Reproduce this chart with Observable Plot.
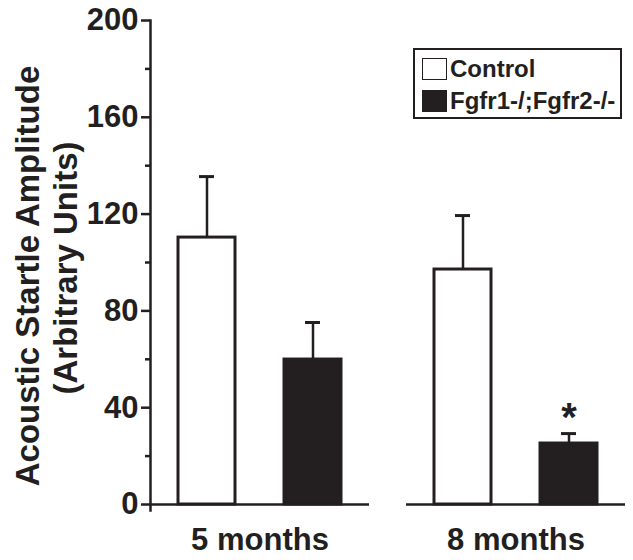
<!DOCTYPE html>
<html>
<head>
<meta charset="utf-8">
<script src="https://cdn.jsdelivr.net/npm/d3@7"></script>
<script src="https://cdn.jsdelivr.net/npm/@observablehq/plot@0.6"></script>
<style>
  body { margin: 0; background: #fff; }
  #wrap { position: relative; width: 633px; height: 560px; font-family: "Liberation Sans", Arial, sans-serif; font-weight: bold; color: #231f20; }
  #wrap svg { position: absolute; left: 0; top: 0; }
  .ylab { position: absolute; transform: translate(-50%, -50%) rotate(-90deg); white-space: nowrap; font-size: 33px; line-height: 1; }
  #legend { position: absolute; left: 413px; top: 48px; width: 205px; height: 67px; border: 2.5px solid #231f20; background: #fff; }
  .row { position: absolute; left: 7px; display: flex; align-items: center; font-size: 24px; line-height: 1; }
  .sw { width: 25px; height: 22px; border: 1.5px solid #231f20; margin-right: 3px; box-sizing: border-box; }
</style>
</head>
<body>
<div id="wrap">
  <div class="ylab" style="left:27px; top:276px">Acoustic Startle Amplitude</div>
  <div class="ylab" style="left:65px; top:268px">(Arbitrary Units)</div>
  <div id="legend"></div>
</div>
<script>
const ages = ["5 months", "8 months"];
const genotypes = ["Control", "Fgfr1-/;Fgfr2-/-"];
const colors = ["#ffffff", "#231f20"];
const means5 = [110.3, 59.9];
const errTop5 = [135.5, 75.2];
const means8 = [97.1, 25.2];
const errTop8 = [119.4, 29.3];
const majorTicks = [0, 40, 80, 120, 160, 200];
const minorTicks = [20, 60, 100, 140, 180];
const significance = [{age: "8 months", genotype: "Fgfr1-/;Fgfr2-/-", label: "*"}];

const data = [];
ages.forEach((age, i) => {
  const m = i === 0 ? means5 : means8;
  const e = i === 0 ? errTop5 : errTop8;
  genotypes.forEach((g, j) => data.push({age, genotype: g, value: m[j], err: e[j], color: colors[j]}));
});
const sig = significance.map(s => ({...s, err: data.find(d => d.age === s.age && d.genotype === s.genotype).err}));

const font = "'Liberation Sans', Arial, sans-serif";
const chart = Plot.plot({
  width: 633,
  height: 560,
  marginLeft: 150,
  marginRight: 8,
  marginTop: 20,
  marginBottom: 56,
  style: {fontFamily: font, fontWeight: "bold", color: "#231f20", background: "transparent"},
  fx: {domain: ages, paddingInner: 0.145, paddingOuter: 0, label: null},
  x: {domain: genotypes, paddingInner: 0.465, paddingOuter: 0.26, axis: null},
  y: {domain: [0, 200], axis: null},
  marks: [
    Plot.ruleX(data, {fx: "age", x: "genotype", y1: "value", y2: "err", stroke: "#231f20", strokeWidth: 2.5}),
    Plot.tickY(data, {fx: "age", x: "genotype", y: "err", stroke: "#231f20", strokeWidth: 3, insetLeft: 21, insetRight: 21}),
    Plot.barY(data, {fx: "age", x: "genotype", y: "value", fill: "color", stroke: "#231f20", strokeWidth: 3}),
    Plot.text(sig, {fx: "age", x: "genotype", y: "err", text: "label", fontSize: 40, fontWeight: "bold", lineAnchor: "bottom", dy: -3, fill: "#231f20"}),
    Plot.ruleY([0], {stroke: "#231f20", strokeWidth: 2.5}),
    Plot.frame({anchor: "left", facetAnchor: "left", stroke: "#231f20", strokeWidth: 2.5, insetBottom: -6}),
    Plot.axisY(majorTicks, {tickSize: 9, strokeWidth: 2.5, stroke: "#231f20", fontSize: 31, fontWeight: "bold", tickPadding: 3, label: null, fill: "#231f20"}),
    Plot.axisY(minorTicks, {tickSize: 5, strokeWidth: 2.5, stroke: "#231f20", tickFormat: () => "", label: null}),
    Plot.axisFx({anchor: "bottom", tickSize: 0, tickPadding: 23, fontSize: 31, fontWeight: "bold", label: null, fill: "#231f20"})
  ]
});
document.getElementById("wrap").prepend(chart);

const legend = document.getElementById("legend");
genotypes.forEach((g, j) => {
  const row = document.createElement("div");
  row.className = "row";
  row.style.top = (j === 0 ? 7 : 39) + "px";
  const sw = document.createElement("div");
  sw.className = "sw";
  sw.style.background = colors[j];
  const t = document.createElement("span");
  t.textContent = g;
  row.append(sw, t);
  legend.append(row);
});
</script>
</body>
</html>
